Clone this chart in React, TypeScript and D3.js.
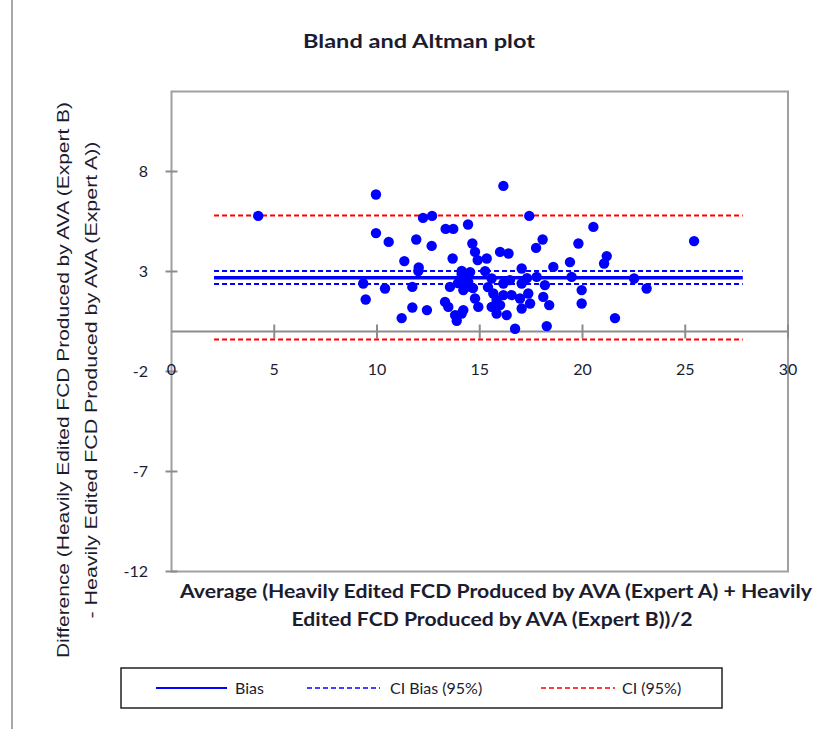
import React from "react";
import * as d3 from "d3";

const avgValues = [
  4.22, 9.95, 9.95, 10.57, 11.33, 11.91, 12.03, 12.24, 12.68, 12.66,
  13.34, 13.71, 13.68, 14.43, 14.64, 14.77, 14.9, 14.12, 9.33, 9.45,
  10.39, 11.72, 11.72, 12.43, 11.2, 13.31, 13.47, 13.8, 13.88, 14.2,
  13.55, 14.12, 14.28, 14.44, 14.2, 14.36, 14.77, 14.93, 15.34, 16.15,
  17.41, 15.99, 16.4, 17.74, 18.06, 19.8, 19.39, 18.58, 17.04, 15.26,
  15.58, 17.77, 19.47, 16.15, 17.04, 15.66, 15.82, 15.58, 15.82, 15.99,
  16.15, 16.31, 16.55, 16.96, 17.36, 17.04, 17.45, 16.72, 18.09, 18.38,
  18.26, 19.96, 19.96, 20.53, 21.18, 21.05, 25.43, 22.51, 23.12, 21.58,
  14.12, 12.01, 14.14, 14.53, 14.67, 13.94, 15.4, 16.47, 17.3, 18.17,
];
const diffValues = [
  5.78, 6.85, 4.92, 4.48, 3.52, 4.6, 3.2, 5.68, 5.78, 4.28,
  5.13, 5.13, 3.65, 5.35, 4.4, 3.98, 3.57, 3.03, 2.4, 1.6,
  2.15, 2.23, 1.2, 1.07, 0.67, 1.48, 1.23, 0.82, 0.54, 1.07,
  2.23, 2.87, 2.67, 2.47, 2.07, 2.23, 1.65, 1.23, 3.65, 7.28,
  5.78, 3.98, 3.9, 4.18, 4.6, 4.4, 3.47, 3.23, 3.15, 3.02,
  2.65, 2.73, 2.73, 2.4, 2.4, 1.9, 1.57, 1.23, 0.9, 1.32,
  1.82, 0.82, 1.82, 1.65, 1.9, 1.15, 1.4, 0.14, 1.73, 1.32,
  0.27, 2.07, 1.4, 5.23, 3.77, 3.4, 4.52, 2.65, 2.15, 0.67,
  0.9, 3.02, 2.57, 2.97, 2.17, 2.42, 2.22, 2.57, 2.67, 2.32,
];

const lineRange = [2.07, 27.8];
const biasValue = 2.69;
const ciBiasValues = [2.38, 3.02];
const ciValues = [-0.4, 5.8];

const xTicks = [0, 5, 10, 15, 20, 25, 30];
const yTicks = [-12, -7, -2, 3, 8];

const titleText = "Bland and Altman plot";
const xLabelLines = [
  "Average (Heavily Edited FCD Produced by AVA (Expert A) + Heavily",
  "Edited FCD Produced by AVA (Expert B))/2",
];
const yLabelLines = [
  "Difference (Heavily Edited FCD Produced by AVA (Expert B)",
  "- Heavily Edited FCD Produced by AVA (Expert A))",
];
const legendLabels = ["Bias", "CI Bias (95%)", "CI (95%)"];

export default function App() {
  const W = 820;
  const H = 729;
  const x = d3.scaleLinear().domain([0, 30]).range([171.5, 788]);
  const y = d3.scaleLinear().domain([-12, 12]).range([571.5, 91.5]);
  const calibri = "Lato, 'Open Sans', sans-serif";
  const arial = "'Liberation Sans', Arial, sans-serif";
  const textColor = "#1c1c30";
  const axisColor = "#8c8c8c";

  const hLine = (v: number, color: string, dash: string | undefined, w: number, key: string) => (
    <line
      key={key}
      x1={x(lineRange[0])}
      x2={x(lineRange[1])}
      y1={y(v)}
      y2={y(v)}
      stroke={color}
      strokeWidth={w}
      strokeDasharray={dash}
    />
  );

  return (
    <svg width={W} height={H} style={{ position: "absolute", left: 0, top: 0, background: "#fff" }}>
      <rect x={0} y={0} width={W} height={H} fill="#fff" />
      {/* outer chart border (left edge visible) */}
      <line x1={12} x2={12} y1={0} y2={H} stroke="#a8a8a8" strokeWidth={2} />

      {/* title */}
      <text x={419} y={48} textAnchor="middle" fontFamily={calibri} fontWeight="bold" fontSize={18} fill={textColor} textLength={232} lengthAdjust="spacingAndGlyphs">
        {titleText}
      </text>

      {/* plot area box */}
      <rect x={x(0)} y={y(12)} width={x(30) - x(0)} height={y(-12) - y(12)} fill="none" stroke="#a0a0a0" strokeWidth={2} />

      {/* x axis at y=0 */}
      <line x1={x(0)} x2={x(30)} y1={y(0)} y2={y(0)} stroke={axisColor} strokeWidth={2} />
      {xTicks.filter((t) => t > 0).map((t) => (
        <line key={"xt" + t} x1={x(t)} x2={x(t)} y1={y(0) - 7} y2={y(0) + 7} stroke={axisColor} strokeWidth={2} />
      ))}
      {yTicks.map((t) => (
        <line key={"yt" + t} x1={x(0) - 6} x2={x(0) + 6} y1={y(t)} y2={y(t)} stroke={axisColor} strokeWidth={2} />
      ))}
      {xTicks.map((t) => (
        <text key={"xl" + t} x={x(t)} y={y(0) + 43} textAnchor="middle" fontFamily={calibri} fontSize={16} fill={textColor}>
          {t}
        </text>
      ))}
      {yTicks.map((t) => (
        <text key={"yl" + t} x={148} y={y(t) + 5.5} textAnchor="end" fontFamily={calibri} fontSize={16} fill={textColor}>
          {t}
        </text>
      ))}

      {/* reference lines */}
      {hLine(ciValues[1], "#ff0000", "5,3", 2, "ciU")}
      {hLine(ciValues[0], "#ff0000", "5,3", 2, "ciL")}
      {hLine(ciBiasValues[1], "#0000ff", "5,3", 2, "cbU")}
      {hLine(ciBiasValues[0], "#0000ff", "5,3", 2, "cbL")}
      {hLine(biasValue, "#0000ff", undefined, 3.5, "bias")}

      {/* points */}
      {avgValues.map((a, i) => (
        <circle key={"p" + i} cx={x(a)} cy={y(diffValues[i])} r={5.2} fill="#0000ff" />
      ))}

      {/* x axis label */}
      <text x={496} y={598} textAnchor="middle" fontFamily={calibri} fontWeight="bold" fontSize={18} fill={textColor} textLength={632} lengthAdjust="spacingAndGlyphs">
        {xLabelLines[0]}
      </text>
      <text x={492} y={626} textAnchor="middle" fontFamily={calibri} fontWeight="bold" fontSize={18} fill={textColor} textLength={401} lengthAdjust="spacingAndGlyphs">
        {xLabelLines[1]}
      </text>

      {/* y axis label */}
      <text transform={`translate(69,380) rotate(-90)`} textAnchor="middle" fontFamily={arial} fontSize={16} fill={textColor} textLength={556} lengthAdjust="spacingAndGlyphs">
        {yLabelLines[0]}
      </text>
      <text transform={`translate(97,380) rotate(-90)`} textAnchor="middle" fontFamily={arial} fontSize={16} fill={textColor} textLength={477} lengthAdjust="spacingAndGlyphs">
        {yLabelLines[1]}
      </text>

      {/* legend */}
      <rect x={121} y={668} width={601} height={40} fill="#fff" stroke="#222" strokeWidth={1.5} />
      <line x1={156} x2={227} y1={688} y2={688} stroke="#0000ff" strokeWidth={2} />
      <text x={235} y={694} fontFamily={calibri} fontSize={16} fill={textColor}>{legendLabels[0]}</text>
      <line x1={307} x2={380} y1={688} y2={688} stroke="#0000ff" strokeWidth={1.5} strokeDasharray="5,3" />
      <text x={390} y={694} fontFamily={calibri} fontSize={16} fill={textColor}>{legendLabels[1]}</text>
      <line x1={541} x2={615} y1={688} y2={688} stroke="#ff0000" strokeWidth={1.5} strokeDasharray="5,3" />
      <text x={622} y={694} fontFamily={calibri} fontSize={16} fill={textColor}>{legendLabels[2]}</text>
    </svg>
  );
}
